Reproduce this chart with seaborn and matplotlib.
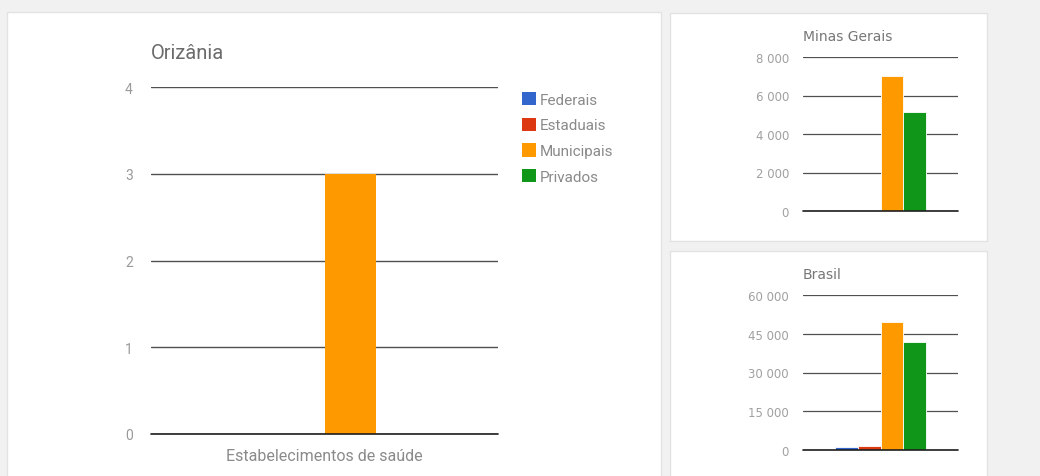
import pandas as pd
import matplotlib.pyplot as plt
import matplotlib.ticker as mticker
from matplotlib.patches import Rectangle, Patch
import seaborn as sns

# -----------------------------
# Data
# -----------------------------
tipos = ["Federais", "Estaduais", "Municipais", "Privados"]
cores = ["#3366cc", "#dc3912", "#ff9900", "#109618"]
categoria = "Estabelecimentos de saúde"

orizania = [0, 0, 3, 0]
minas_gerais = [15, 70, 7000, 5150]
brasil = [1100, 1400, 49500, 41800]

sns.set_theme(style="white")
plt.rcParams["font.family"] = ["Roboto", "DejaVu Sans"]

W, H = 1040, 477
fig = plt.figure(figsize=(W / 100, H / 100), dpi=100)
fig.patch.set_facecolor("#f1f1f1")


def box(x0, y0, x1, y1):
    # pixel box (top-left origin) -> figure fraction
    return [x0 / W, 1 - y1 / H, (x1 - x0) / W, (y1 - y0) / H]


# white cards, kept behind the axes
for x0, y0, x1, y1 in [(7, 13, 661, 490), (670, 14, 987, 242), (670, 252, 987, 490)]:
    b = box(x0, y0, x1, y1)
    fig.patches.append(Rectangle((b[0], b[1]), b[2], b[3], transform=fig.transFigure,
                                 facecolor="white", edgecolor="#e2e2e2", lw=1, zorder=-10))


def draw(ax, values, ymax, step, title, big):
    df = pd.DataFrame({"cat": [categoria] * len(tipos), "tipo": tipos, "valor": values})
    sns.barplot(data=df, x="cat", y="valor", hue="tipo", hue_order=tipos,
                palette=cores, saturation=1, width=0.59, ax=ax, legend=False,
                edgecolor="white", linewidth=0.6 if not big else 0, zorder=3)
    ax.set_xlim(-0.5, 0.5)
    ax.set_ylim(0, ymax)
    ax.yaxis.set_major_locator(mticker.MultipleLocator(step))
    ax.yaxis.set_major_formatter(mticker.FuncFormatter(
        lambda v, p: f"{int(v):,}".replace(",", " ")))
    ax.yaxis.grid(True, color="#505050", lw=1 if big else 0.9, zorder=1)
    ax.set_axisbelow(True)
    ax.axhline(0, color="#1e1e1e", lw=1.2, zorder=4, clip_on=False)
    for s in ax.spines.values():
        s.set_visible(False)
    ax.set_facecolor("none")
    ax.set_xlabel("")
    ax.set_ylabel("")
    ax.tick_params(axis="x", length=0, pad=10, labelsize=11.5, labelcolor="#8a8a8a")
    if big:
        ax.tick_params(axis="y", length=0, pad=13, labelsize=10, labelcolor="#9a9a9a")
        ax.set_title(title, loc="left", color="#6b6b6b", fontsize=14.5, pad=21)
    else:
        ax.tick_params(axis="y", length=0, pad=10, labelsize=8.5, labelcolor="#a0a0a0")
        for t in ax.get_yticklabels():
            t.set_family("DejaVu Sans")
        ax.set_xticklabels([])
        ax.set_title(title, loc="left", color="#777777", fontsize=10,
                     family="DejaVu Sans", pad=12)


ax_main = fig.add_axes(box(151, 88, 498, 435))
draw(ax_main, orizania, 4, 1, "Orizânia", True)

ax_mg = fig.add_axes(box(803, 58, 958, 212))
draw(ax_mg, minas_gerais, 8000, 2000, "Minas Gerais", False)

ax_br = fig.add_axes(box(803, 296, 958, 451))
draw(ax_br, brasil, 60000, 15000, "Brasil", False)

handles = [Patch(facecolor=c, edgecolor="none") for c in cores]
fig.legend(handles, tipos, loc="upper left", bbox_to_anchor=(508 / W, 1 - 79 / H),
           frameon=False, handlelength=0.9, handleheight=0.95, handletextpad=0.3,
           labelspacing=0.72, fontsize=11, labelcolor="#8a8a8a")

fig.savefig("out.png", dpi=100, facecolor=fig.get_facecolor())
